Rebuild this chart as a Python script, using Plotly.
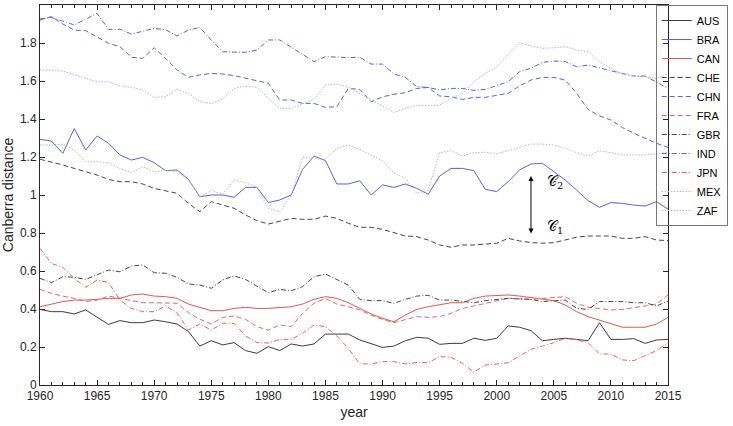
import plotly.graph_objects as go

years = list(range(1960, 2016))

AUS = [0.398, 0.386, 0.386, 0.374, 0.395, 0.356, 0.319, 0.339, 0.328, 0.328,
       0.342, 0.333, 0.321, 0.281, 0.205, 0.233, 0.211, 0.223, 0.181, 0.167,
       0.202, 0.181, 0.216, 0.205, 0.216, 0.268, 0.268, 0.268, 0.237, 0.216,
       0.198, 0.205, 0.233, 0.251, 0.246, 0.214, 0.219, 0.219, 0.246, 0.235,
       0.246, 0.311, 0.304, 0.286, 0.233, 0.240, 0.246, 0.240, 0.233, 0.328,
       0.240, 0.240, 0.244, 0.219, 0.237, 0.240]
BRA = [1.293, 1.284, 1.219, 1.350, 1.237, 1.311, 1.272, 1.211, 1.184, 1.198,
       1.170, 1.128, 1.132, 1.082, 0.991, 1.000, 1.000, 0.988, 1.040, 1.040,
       0.960, 0.974, 1.000, 1.135, 1.205, 1.181, 1.058, 1.058, 1.075, 1.000,
       1.053, 1.040, 1.058, 1.035, 1.004, 1.100, 1.140, 1.140, 1.128, 1.030,
       1.018, 1.070, 1.132, 1.163, 1.167, 1.123, 1.079, 1.026, 0.970, 0.935,
       0.960, 0.956, 0.947, 0.942, 0.965, 0.925]
CAN = [0.412, 0.426, 0.439, 0.447, 0.447, 0.451, 0.456, 0.456, 0.474, 0.479,
       0.468, 0.465, 0.456, 0.426, 0.409, 0.391, 0.391, 0.403, 0.409, 0.403,
       0.403, 0.409, 0.412, 0.426, 0.451, 0.465, 0.456, 0.433, 0.403, 0.374,
       0.351, 0.333, 0.368, 0.398, 0.412, 0.421, 0.433, 0.433, 0.456, 0.468,
       0.470, 0.474, 0.468, 0.461, 0.452, 0.444, 0.421, 0.386, 0.360, 0.342,
       0.321, 0.304, 0.304, 0.304, 0.321, 0.356]
CHE = [1.188, 1.175, 1.158, 1.140, 1.123, 1.105, 1.082, 1.070, 1.070, 1.058,
       1.035, 1.023, 1.009, 0.956, 0.912, 0.965, 0.947, 0.930, 0.895, 0.865,
       0.847, 0.860, 0.877, 0.872, 0.872, 0.889, 0.877, 0.851, 0.830, 0.830,
       0.819, 0.802, 0.784, 0.781, 0.763, 0.737, 0.725, 0.737, 0.737, 0.742,
       0.746, 0.772, 0.758, 0.750, 0.746, 0.749, 0.765, 0.778, 0.784, 0.784,
       0.784, 0.772, 0.772, 0.781, 0.763, 0.760]
CHN = [1.921, 1.939, 1.900, 1.868, 1.865, 1.833, 1.798, 1.781, 1.725, 1.719,
       1.775, 1.719, 1.658, 1.619, 1.632, 1.640, 1.637, 1.628, 1.614, 1.602,
       1.588, 1.500, 1.500, 1.482, 1.482, 1.461, 1.465, 1.561, 1.556, 1.491,
       1.517, 1.530, 1.539, 1.561, 1.566, 1.521, 1.517, 1.503, 1.514, 1.514,
       1.524, 1.535, 1.574, 1.605, 1.619, 1.619, 1.605, 1.535, 1.450, 1.416,
       1.395, 1.355, 1.325, 1.298, 1.272, 1.250]
FRA = [0.503, 0.482, 0.468, 0.456, 0.439, 0.447, 0.468, 0.456, 0.444, 0.433,
       0.433, 0.433, 0.430, 0.381, 0.346, 0.321, 0.356, 0.363, 0.346, 0.307,
       0.289, 0.316, 0.307, 0.377, 0.430, 0.456, 0.426, 0.412, 0.395, 0.368,
       0.345, 0.328, 0.345, 0.360, 0.356, 0.360, 0.377, 0.403, 0.416, 0.430,
       0.443, 0.456, 0.453, 0.451, 0.456, 0.462, 0.465, 0.430, 0.409, 0.403,
       0.395, 0.398, 0.409, 0.416, 0.426, 0.474]
GBR = [0.561, 0.539, 0.570, 0.567, 0.556, 0.579, 0.605, 0.596, 0.626, 0.632,
       0.591, 0.588, 0.567, 0.532, 0.526, 0.509, 0.553, 0.574, 0.556, 0.520,
       0.486, 0.503, 0.496, 0.518, 0.570, 0.584, 0.556, 0.526, 0.451, 0.444,
       0.444, 0.430, 0.451, 0.468, 0.472, 0.447, 0.447, 0.439, 0.433, 0.444,
       0.450, 0.456, 0.453, 0.451, 0.439, 0.444, 0.447, 0.403, 0.398, 0.439,
       0.439, 0.439, 0.433, 0.433, 0.416, 0.442]
IND = [1.926, 1.935, 1.915, 1.895, 1.925, 1.956, 1.872, 1.872, 1.847, 1.860,
       1.877, 1.870, 1.837, 1.868, 1.882, 1.815, 1.754, 1.752, 1.751, 1.763,
       1.816, 1.816, 1.780, 1.740, 1.702, 1.728, 1.726, 1.723, 1.725, 1.689,
       1.689, 1.637, 1.619, 1.570, 1.566, 1.553, 1.561, 1.561, 1.550, 1.556,
       1.576, 1.596, 1.649, 1.667, 1.698, 1.705, 1.702, 1.675, 1.684, 1.667,
       1.654, 1.640, 1.626, 1.626, 1.595, 1.561]
JPN = [0.719, 0.640, 0.619, 0.561, 0.514, 0.553, 0.539, 0.447, 0.403, 0.386,
       0.386, 0.416, 0.381, 0.289, 0.321, 0.289, 0.325, 0.325, 0.258, 0.223,
       0.221, 0.240, 0.240, 0.272, 0.316, 0.307, 0.258, 0.193, 0.111, 0.111,
       0.123, 0.123, 0.111, 0.118, 0.118, 0.149, 0.146, 0.114, 0.068, 0.105,
       0.110, 0.117, 0.153, 0.188, 0.205, 0.223, 0.246, 0.237, 0.223, 0.163,
       0.163, 0.132, 0.128, 0.153, 0.181, 0.223]
MEX = [1.263, 1.263, 1.268, 1.237, 1.175, 1.175, 1.170, 1.140, 1.118, 1.149,
       1.123, 1.128, 1.123, 1.079, 0.991, 1.023, 1.005, 1.079, 1.065, 1.040,
       0.930, 0.912, 1.000, 1.198, 1.193, 1.188, 1.246, 1.263, 1.240, 1.211,
       1.181, 1.114, 1.088, 1.009, 1.026, 1.223, 1.233, 1.205, 1.223, 1.225,
       1.218, 1.233, 1.251, 1.268, 1.268, 1.263, 1.246, 1.223, 1.205, 1.233,
       1.223, 1.211, 1.211, 1.211, 1.216, 1.225]
ZAF = [1.658, 1.657, 1.652, 1.632, 1.614, 1.596, 1.596, 1.574, 1.567, 1.553,
       1.514, 1.517, 1.556, 1.535, 1.491, 1.482, 1.503, 1.561, 1.574, 1.567,
       1.509, 1.456, 1.456, 1.480, 1.504, 1.579, 1.584, 1.567, 1.535, 1.500,
       1.468, 1.435, 1.456, 1.472, 1.472, 1.472, 1.509, 1.535, 1.596, 1.640,
       1.675, 1.737, 1.802, 1.784, 1.772, 1.775, 1.781, 1.763, 1.754, 1.702,
       1.667, 1.637, 1.626, 1.623, 1.614, 1.637]

x_ticks = list(range(1960, 2016, 5))
y_ticks = [0, 0.2, 0.4, 0.6, 0.8, 1, 1.2, 1.4, 1.6, 1.8, 2]
y_tick_labels = ["0", "0.2", "0.4", "0.6", "0.8", "1", "1.2", "1.4", "1.6", "1.8", "2"]

DASH = "5px,3px"
DASHDOT = "5px,2px,1px,2px"
DOT = "1.5px,1.5px"

series = [
    ("AUS", AUS, "rgb(60,60,60)", "solid"),
    ("BRA", BRA, "rgb(95,95,220)", "solid"),
    ("CAN", CAN, "rgb(232,85,85)", "solid"),
    ("CHE", CHE, "rgb(70,70,70)", DASH),
    ("CHN", CHN, "rgb(95,95,215)", DASH),
    ("FRA", FRA, "rgb(236,100,100)", DASH),
    ("GBR", GBR, "rgb(70,70,70)", DASHDOT),
    ("IND", IND, "rgb(95,95,215)", DASHDOT),
    ("JPN", JPN, "rgb(236,95,95)", DASHDOT),
    ("MEX", MEX, "rgb(185,185,185)", DOT),
    ("ZAF", ZAF, "rgb(175,175,240)", DOT),
]

fig = go.Figure()
for name, vals, col, dash in series:
    fig.add_trace(go.Scatter(x=years, y=vals, mode="lines", name=name,
                             line=dict(color=col, width=1, dash=dash)))

axis_col = "rgb(38,38,38)"
font_fam = "Liberation Sans, Arial, sans-serif"

fig.update_layout(
    width=733, height=426,
    margin=dict(l=40, r=62, t=5, b=41),
    paper_bgcolor="white", plot_bgcolor="white",
    font=dict(family=font_fam, size=12, color=axis_col),
    showlegend=True,
    legend=dict(x=(731 - 40) / 631, xanchor="right", y=1.0, yanchor="top",
                bgcolor="rgba(255,255,255,0)", bordercolor="rgb(120,120,120)",
                borderwidth=1, font=dict(size=11, color="black"),
                tracegroupgap=0, itemwidth=30),
    xaxis=dict(range=[1960, 2015], tickvals=x_ticks, ticks="inside", ticklen=5,
               showline=True, linecolor=axis_col, linewidth=1, mirror="ticks",
               showgrid=False, zeroline=False, tickcolor=axis_col,
               minor=dict(dtick=1, ticks="inside", ticklen=3, tickcolor=axis_col,
                          showgrid=False),
               title=dict(text="year", standoff=4)),
    yaxis=dict(range=[0, 2], tickvals=y_ticks, ticktext=y_tick_labels,
               ticks="inside", ticklen=5, showline=True, linecolor=axis_col,
               linewidth=1, mirror="ticks", showgrid=False, zeroline=False,
               tickcolor=axis_col, title=dict(text="Canberra distance", standoff=4)),
)

fig.add_annotation(x=2003, y=1.10, ax=2003, ay=0.79, xref="x", yref="y",
                   axref="x", ayref="y", text="", showarrow=True,
                   arrowhead=2, arrowside="end+start", arrowsize=1,
                   arrowwidth=1, arrowcolor="black")
fig.add_annotation(x=2004.2, y=1.07, xref="x", yref="y", text="𝒞<sub>2</sub>",
                   showarrow=False, xanchor="left",
                   font=dict(family="DejaVu Serif, serif", size=14, color="black"))
fig.add_annotation(x=2004.2, y=0.83, xref="x", yref="y", text="𝒞<sub>1</sub>",
                   showarrow=False, xanchor="left",
                   font=dict(family="DejaVu Serif, serif", size=14, color="black"))

fig.write_html("out.html", config={"displayModeBar": False},
               post_script="document.body.style.margin='0px';")
